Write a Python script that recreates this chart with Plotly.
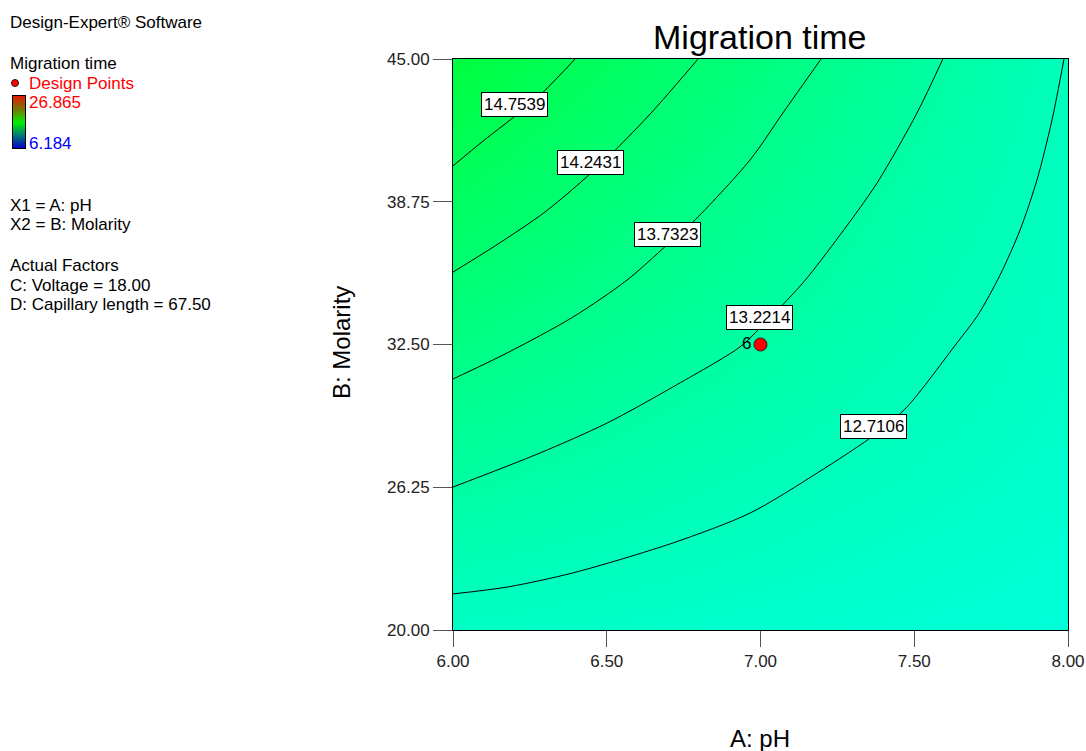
import plotly.graph_objects as go

W, H = 1086, 751

# ---------------- data ----------------
ph_grid = [6.0, 6.5, 7.0, 7.5, 8.0]
molarity_grid = [20.0, 26.25, 32.5, 38.75, 45.0]
# estimated migration time at grid points (rows = molarity, cols = pH)
migration_z = [
    [12.54, 12.45, 12.35, 12.25, 12.15],
    [13.22, 12.99, 12.76, 12.55, 12.35],
    [13.90, 13.54, 13.18, 12.81, 12.50],
    [14.58, 14.08, 13.56, 13.06, 12.60],
    [15.26, 14.62, 13.98, 13.34, 12.70],
]
z_min, z_max = 6.184, 26.865

contour_levels = ["14.7539", "14.2431", "13.7323", "13.2214", "12.7106"]
c1_x = [6.397, 6.293, 6.198, 6.098, 6.000]
c1_y = [45.00, 43.55, 42.46, 41.41, 40.32]
c2_x = [6.797, 6.641, 6.478, 6.299, 6.137, 6.000]
c2_y = [45.00, 42.59, 40.36, 38.30, 36.82, 35.67]
c3_x = [7.197, 7.073, 6.966, 6.780, 6.696, 6.566, 6.390, 6.176, 6.000]
c3_y = [45.00, 42.64, 40.58, 37.86, 36.86, 35.32, 33.70, 32.13, 30.99]
c4_x = [7.593, 7.509, 7.379, 7.259, 7.138, 6.998, 6.933, 6.715, 6.501, 6.283, 6.000]
c4_y = [45.00, 42.64, 39.57, 37.30, 35.20, 33.22, 32.39, 30.64, 29.06, 27.75, 26.26]
c5_x = [7.987, 7.948, 7.899, 7.844, 7.779, 7.707, 7.639, 7.476, 7.379, 7.184,
        6.966, 6.715, 6.390, 6.176, 6.000]
c5_y = [45.00, 42.33, 39.70, 37.51, 35.54, 33.79, 32.57, 29.76, 28.62, 26.87,
        25.12, 23.81, 22.50, 21.88, 21.58]
label_x = [6.200, 6.447, 6.697, 6.997, 7.369]
label_y = [42.99, 40.46, 37.33, 33.68, 28.93]

design_ph = [7.00]
design_molarity = [32.50]
design_count = ["6"]

x_ticks = [6.0, 6.5, 7.0, 7.5, 8.0]
y_ticks = [20.0, 26.25, 32.5, 38.75, 45.0]

FONT = "Arial, Liberation Sans, sans-serif"


def fx(px):
    return px / W


def fy(py):
    return 1 - py / H


hsv_scale = [[0.0, "#0000ff"], [0.25, "#00ffff"], [0.5, "#00ff00"],
             [0.75, "#ffff00"], [1.0, "#ff0000"]]
bar_scale = [[0.0, "#0000d0"], [0.25, "#007878"], [0.5, "#00f000"],
             [0.75, "#787800"], [1.0, "#e02000"]]

fig = go.Figure()

fig.add_trace(go.Heatmap(
    x=ph_grid, y=molarity_grid, z=migration_z, zmin=z_min, zmax=z_max,
    colorscale=hsv_scale, zsmooth="best", showscale=False, hoverinfo="skip",
))

for cx, cy in [(c1_x, c1_y), (c2_x, c2_y), (c3_x, c3_y), (c4_x, c4_y), (c5_x, c5_y)]:
    fig.add_trace(go.Scatter(
        x=cx, y=cy, mode="lines",
        line=dict(color="black", width=1, shape="spline", smoothing=0.8),
        showlegend=False, hoverinfo="skip",
    ))

fig.add_trace(go.Scatter(
    x=design_ph, y=design_molarity, mode="markers+text",
    text=design_count, textposition="middle left",
    textfont=dict(family=FONT, size=17, color="black"),
    marker=dict(size=13, color="#ff0000", line=dict(color="#202020", width=1)),
    showlegend=False, hoverinfo="skip",
))

# colour key (legend bar)
fig.add_trace(go.Heatmap(
    x=[0], y=[z_min, z_max], z=[[z_min], [z_max]], zmin=z_min, zmax=z_max,
    colorscale=bar_scale, zsmooth="best", showscale=False, hoverinfo="skip",
    xaxis="x2", yaxis="y2",
))

axis_common = dict(
    showgrid=False, zeroline=False, showline=True, mirror=True,
    linecolor="black", linewidth=1, ticks="outside", tickcolor="#555555",
    tickfont=dict(family=FONT, size=17, color="#222222"), automargin=False,
)

fig.update_layout(
    width=W, height=H,
    margin=dict(l=0, r=0, t=0, b=0, pad=0, autoexpand=False),
    paper_bgcolor="white", plot_bgcolor="white",
    showlegend=False,
    xaxis=dict(domain=[fx(453), fx(1068)], range=[6, 8], tickvals=x_ticks,
               ticktext=[f"{v:.2f}" for v in x_ticks], ticklen=16, **axis_common),
    yaxis=dict(domain=[fy(630), fy(59)], range=[20, 45], tickvals=y_ticks,
               ticktext=[f"{v:.2f}" for v in y_ticks], ticklen=19, **axis_common),
    xaxis2=dict(domain=[fx(13), fx(25)], range=[-0.5, 0.5], showgrid=False,
                zeroline=False, showticklabels=False, showline=True, mirror=True,
                linecolor="black", linewidth=1, anchor="y2", fixedrange=True,
                automargin=False),
    yaxis2=dict(domain=[fy(148), fy(96)], range=[z_min, z_max], showgrid=False,
                zeroline=False, showticklabels=False, showline=True, mirror=True,
                linecolor="black", linewidth=1, anchor="x2", fixedrange=True,
                automargin=False),
)

annotations = []

# contour labels
for lx, ly, txt in zip(label_x, label_y, contour_levels):
    annotations.append(dict(
        x=lx, y=ly, xref="x", yref="y", text=txt, showarrow=False,
        font=dict(family=FONT, size=17, color="black"),
        bgcolor="white", bordercolor="black", borderwidth=1, borderpad=2,
        xanchor="center", yanchor="middle",
    ))

# titles
annotations.append(dict(x=fx(760), y=fy(37), xref="paper", yref="paper",
                        text="Migration time", showarrow=False,
                        font=dict(family=FONT, size=34, color="black"),
                        xanchor="center", yanchor="middle"))
annotations.append(dict(x=fx(760), y=fy(738), xref="paper", yref="paper",
                        text="A: pH", showarrow=False,
                        font=dict(family=FONT, size=24, color="black"),
                        xanchor="center", yanchor="middle"))
annotations.append(dict(x=fx(341), y=fy(343), xref="paper", yref="paper",
                        text="B: Molarity", showarrow=False, textangle=-90,
                        font=dict(family=FONT, size=24, color="black"),
                        xanchor="center", yanchor="middle"))

# left information panel
left_lines = [
    ("Design-Expert® Software", 22, 8, "black"),
    ("Migration time", 63, 8, "black"),
    ("Design Points", 83, 27, "#ff0000"),
    ("26.865", 103, 27, "#ff0000"),
    ("6.184", 144, 27, "#0000ff"),
    ("X1 = A: pH", 205, 8, "black"),
    ("X2 = B: Molarity", 224, 8, "black"),
    ("Actual Factors", 265, 8, "black"),
    ("C: Voltage = 18.00", 285, 8, "black"),
    ("D: Capillary length = 67.50", 305, 8, "black"),
]
for txt, py, px, col in left_lines:
    annotations.append(dict(x=fx(px), y=fy(py), xref="paper", yref="paper",
                            text=txt, showarrow=False,
                            font=dict(family=FONT, size=17, color=col),
                            xanchor="left", yanchor="middle"))

fig.update_layout(annotations=annotations)

fig.add_shape(type="circle", xref="paper", yref="paper",
              x0=fx(11.5), x1=fx(18.5), y0=fy(86.5), y1=fy(79.5),
              fillcolor="#ff0000", line=dict(color="#202020", width=1))

# remove the browser's default 8 px page margin so the figure fills the window
fig.write_html(
    "out.html",
    config={"displayModeBar": False},
    post_script="document.body.style.margin='0';document.body.style.overflow='hidden';",
)
